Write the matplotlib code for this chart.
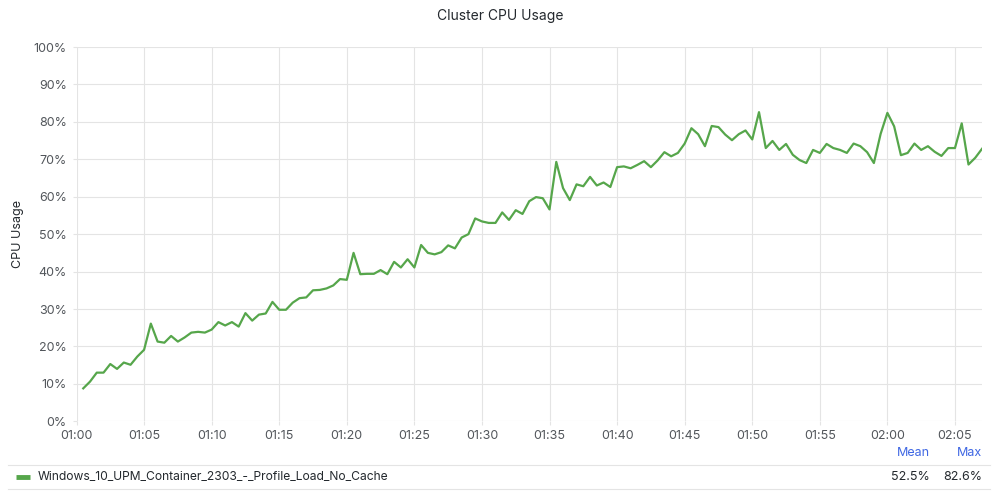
#!/usr/bin/env python3

import datetime
import pandas as pd
import matplotlib
matplotlib.use('Agg')
import matplotlib.pyplot as plt
import matplotlib.dates as mdates
from matplotlib.ticker import MultipleLocator, FuncFormatter
from matplotlib.lines import Line2D

TITLE = 'Cluster CPU Usage'
Y_LABEL = 'CPU Usage'
SERIES_NAME = 'Windows_10_UPM_Container_2303_-_Profile_Load_No_Cache'
STAT_NAMES = ['Mean', 'Max']
STAT_VALUES = ['52.5%', '82.6%']

# samples every 30 s starting 01:00:30
START = datetime.datetime(2023, 3, 1, 1, 0, 30)
cpu = [
  8.8, 10.6, 13.0, 13.0, 15.3, 14.0, 15.7, 15.1, 17.3, 19.1,
  26.1, 21.3, 21.0, 22.8, 21.3, 22.4, 23.7, 23.9, 23.7, 24.5,
  26.5, 25.6, 26.5, 25.3, 28.9, 26.9, 28.5, 28.8, 31.9, 29.8,
  29.8, 31.7, 32.9, 33.1, 35.0, 35.1, 35.5, 36.3, 38.0, 37.8,
  45.0, 39.3, 39.4, 39.4, 40.4, 39.3, 42.6, 41.1, 43.3, 41.1,
  47.1, 45.0, 44.6, 45.2, 47.0, 46.2, 49.1, 50.0, 54.2, 53.4,
  53.0, 53.0, 55.8, 53.8, 56.4, 55.4, 58.8, 59.9, 59.6, 56.6,
  69.3, 62.3, 59.1, 63.3, 62.8, 65.3, 63.0, 63.8, 62.6, 67.9,
  68.1, 67.6, 68.5, 69.5, 67.9, 69.7, 71.9, 70.8, 71.7, 74.2,
  78.3, 76.7, 73.5, 78.9, 78.6, 76.6, 75.1, 76.7, 77.7, 75.3,
  82.6, 73.0, 74.9, 72.5, 74.1, 71.2, 69.8, 69.0, 72.5, 71.7,
  74.1, 73.0, 72.5, 71.7, 74.2, 73.5, 71.9, 69.0, 76.8, 82.4,
  78.8, 71.1, 71.7, 74.2, 72.5, 73.5, 72.0, 70.9, 73.0, 73.0,
  79.6, 68.6, 70.4, 72.8,
]
times = pd.date_range(START, periods=len(cpu), freq='30s')

LINE_COLOR = '#56A64B'
GRID_COLOR = '#e4e4e4'
TEXT_COLOR = '#24292e'
TICK_COLOR = '#52565b'
STAT_COLOR = '#3f67e3'

plt.rcParams['font.family'] = ['Inter', 'DejaVu Sans']

fig = plt.figure(figsize=(10, 5), dpi=100)
ax = fig.add_axes([0.0765, 0.1574, 0.982 - 0.0765, 0.906 - 0.1574])

ax.plot(times, cpu, color=LINE_COLOR, linewidth=1.6, solid_joinstyle='round')

ax.set_xlim(datetime.datetime(2023, 3, 1, 1, 0, 0), datetime.datetime(2023, 3, 1, 2, 7, 0))
ax.set_ylim(0, 100)
ax.xaxis.set_major_locator(mdates.MinuteLocator(byminute=range(0, 60, 5)))
ax.xaxis.set_major_formatter(mdates.DateFormatter('%H:%M'))
ax.yaxis.set_major_locator(MultipleLocator(10))
ax.yaxis.set_major_formatter(FuncFormatter(lambda v, p: '{:.0f}%'.format(v)))

ax.grid(True, color=GRID_COLOR, linewidth=0.8)
ax.set_axisbelow(True)
for s in ax.spines.values():
  s.set_visible(False)
ax.tick_params(axis='both', length=3, width=0.8, color=GRID_COLOR, labelcolor=TICK_COLOR, labelsize=9)
ax.tick_params(axis='y', pad=4)
ax.tick_params(axis='x', pad=3)

ax.set_ylabel(Y_LABEL, fontsize=9, color=TEXT_COLOR)
ax.yaxis.set_label_coords(-0.058, 0.5)

fig.text(0.5, 1 - 16 / 500, TITLE, ha='center', va='center', fontsize=10, color=TEXT_COLOR)

# legend table
fig.add_artist(Line2D([0.008, 0.99], [1 - 465 / 500, 1 - 465 / 500], color=GRID_COLOR, linewidth=0.8))
fig.add_artist(Line2D([0.008, 0.99], [1 - 489 / 500, 1 - 489 / 500], color=GRID_COLOR, linewidth=0.8))
fig.add_artist(Line2D([0.016, 0.030], [1 - 477 / 500, 1 - 477 / 500], color=LINE_COLOR, linewidth=3.5,
                      solid_capstyle='butt'))
fig.text(0.038, 1 - 477 / 500, SERIES_NAME, ha='left', va='center', fontsize=8.7, color=TEXT_COLOR)

stat_right = [0.930, 0.982]
for name, value, xr in zip(STAT_NAMES, STAT_VALUES, stat_right):
  fig.text(xr, 1 - 453 / 500, name, ha='right', va='center', fontsize=9, color=STAT_COLOR)
  fig.text(xr, 1 - 477 / 500, value, ha='right', va='center', fontsize=9, color=TEXT_COLOR)

fig.savefig('out.png', dpi=100)
